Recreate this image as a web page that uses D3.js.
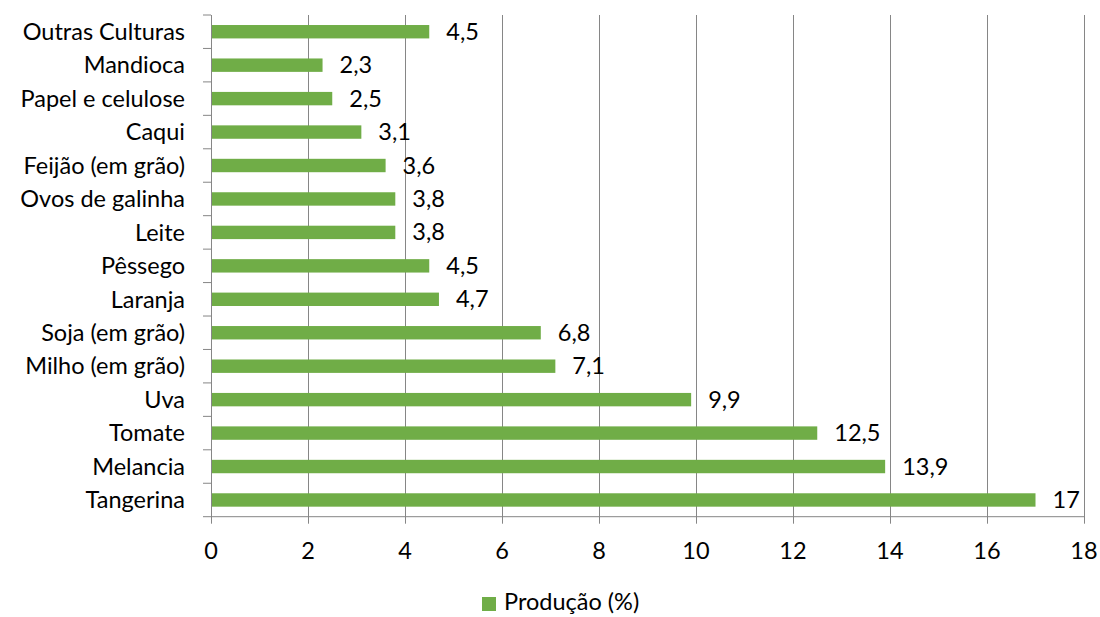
<!DOCTYPE html>
<html>
<head>
    <meta charset="utf-8">
    <script src="https://d3js.org/d3.v7.min.js"></script>
    <style>
        body { margin: 0; background: #fff; }
        text { font-family: Lato, "Open Sans", sans-serif; fill: #000; }
    </style>
</head>
<body>
<div id="chart"></div>
<script>
    // Data (top to bottom)
    const categories = ['Outras Culturas', 'Mandioca', 'Papel e celulose', 'Caqui', 'Feijão (em grão)',
        'Ovos de galinha', 'Leite', 'Pêssego', 'Laranja', 'Soja (em grão)', 'Milho (em grão)',
        'Uva', 'Tomate', 'Melancia', 'Tangerina'];
    const values = [4.5, 2.3, 2.5, 3.1, 3.6, 3.8, 3.8, 4.5, 4.7, 6.8, 7.1, 9.9, 12.5, 13.9, 17];
    const valueLabels = ['4,5', '2,3', '2,5', '3,1', '3,6', '3,8', '3,8', '4,5', '4,7', '6,8', '7,1', '9,9', '12,5', '13,9', '17'];
    const xTicks = [0, 2, 4, 6, 8, 10, 12, 14, 16, 18];
    const seriesName = 'Produção (%)';

    const chartWidth = 1100;
    const chartHeight = 617;
    const plotLeft = 211, plotRight = 1084, plotTop = 15, plotBottom = 516.7;
    const green = '#70AD47';
    const grey = '#868686';
    const fontSize = 23.5;

    const svg = d3.select('#chart').append('svg')
        .attr('width', chartWidth)
        .attr('height', chartHeight);

    const x = d3.scaleLinear().domain([0, 18]).range([plotLeft, plotRight]);
    const yBand = d3.scaleBand().domain(categories).range([plotTop, plotBottom]);

    // Vertical grid lines
    svg.selectAll('.grid')
        .data(xTicks.slice(1))
        .enter().append('line')
        .attr('x1', d => x(d) + 0.5)
        .attr('x2', d => x(d) + 0.5)
        .attr('y1', plotTop)
        .attr('y2', plotBottom + 7)
        .attr('stroke', grey)
        .attr('stroke-width', 1);

    // Bars
    svg.selectAll('.bar')
        .data(values)
        .enter().append('rect')
        .attr('x', plotLeft)
        .attr('y', (d, i) => yBand(categories[i]) + yBand.bandwidth() / 2 - 6.7)
        .attr('width', d => x(d) - plotLeft)
        .attr('height', 13.4)
        .attr('fill', green);

    // Value labels
    svg.selectAll('.val')
        .data(values)
        .enter().append('text')
        .attr('x', d => x(d) + 17)
        .attr('y', (d, i) => yBand(categories[i]) + yBand.bandwidth() / 2 + 8)
        .attr('font-size', fontSize)
        .text((d, i) => valueLabels[i]);

    // Left axis
    svg.append('line')
        .attr('x1', plotLeft + 0.5).attr('x2', plotLeft + 0.5)
        .attr('y1', plotTop).attr('y2', plotBottom + 7)
        .attr('stroke', grey);
    const yEdges = categories.map(c => yBand(c)).concat([plotBottom]);
    svg.selectAll('.ytick')
        .data(yEdges)
        .enter().append('line')
        .attr('x1', plotLeft - 8).attr('x2', plotLeft)
        .attr('y1', d => d).attr('y2', d => d)
        .attr('stroke', grey);

    // Category labels
    svg.selectAll('.cat')
        .data(categories)
        .enter().append('text')
        .attr('x', 185)
        .attr('y', d => yBand(d) + yBand.bandwidth() / 2 + 8.3)
        .attr('text-anchor', 'end')
        .attr('font-size', fontSize)
        .text(d => d);

    // Bottom axis
    svg.append('line')
        .attr('x1', plotLeft).attr('x2', plotRight + 1)
        .attr('y1', plotBottom).attr('y2', plotBottom)
        .attr('stroke', grey);

    svg.selectAll('.xlab')
        .data(xTicks)
        .enter().append('text')
        .attr('x', d => x(d))
        .attr('y', 559)
        .attr('text-anchor', 'middle')
        .attr('font-size', fontSize)
        .text(d => d);

    // Legend
    svg.append('rect')
        .attr('x', 482).attr('y', 597)
        .attr('width', 14).attr('height', 14)
        .attr('fill', green);
    svg.append('text')
        .attr('x', 504).attr('y', 610)
        .attr('font-size', fontSize)
        .text(seriesName);
</script>
</body>
</html>
